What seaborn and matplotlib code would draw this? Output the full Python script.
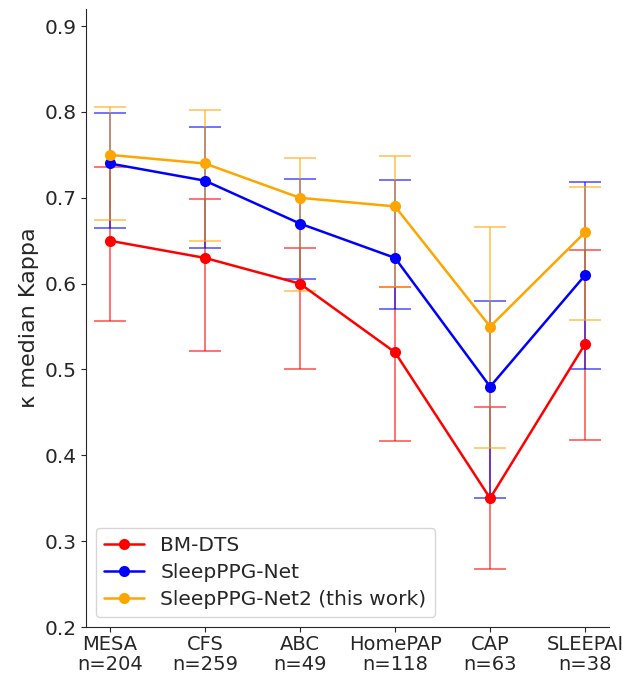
import numpy as np
import pandas as pd
import matplotlib
matplotlib.use("Agg")
import matplotlib.pyplot as plt
import seaborn as sns

# Datasets and subject counts
datasets = ["MESA", "CFS", "ABC", "HomePAP", "CAP", "SLEEPAI"]
n_subjects = [204, 259, 49, 118, 63, 38]

# Median kappa per model
bm_dts_median = [0.65, 0.63, 0.60, 0.52, 0.35, 0.53]
sleepppg_median = [0.74, 0.72, 0.67, 0.63, 0.48, 0.61]
sleepppg2_median = [0.75, 0.74, 0.70, 0.69, 0.55, 0.66]

# Interquartile range (lower / upper quartile) per model
bm_dts_q1 = [0.557, 0.521, 0.500, 0.417, 0.267, 0.418]
bm_dts_q3 = [0.736, 0.699, 0.641, 0.596, 0.456, 0.639]
sleepppg_q1 = [0.665, 0.641, 0.605, 0.571, 0.350, 0.500]
sleepppg_q3 = [0.799, 0.783, 0.722, 0.721, 0.580, 0.718]
sleepppg2_q1 = [0.674, 0.650, 0.591, 0.596, 0.409, 0.558]
sleepppg2_q3 = [0.806, 0.802, 0.746, 0.749, 0.666, 0.713]

models = ["BM-DTS", "SleepPPG-Net", "SleepPPG-Net2 (this work)"]
colors = ["red", "blue", "orange"]
medians = [bm_dts_median, sleepppg_median, sleepppg2_median]
q1s = [bm_dts_q1, sleepppg_q1, sleepppg2_q1]
q3s = [bm_dts_q3, sleepppg_q3, sleepppg2_q3]

tick_labels = [f"{d}\nn={n}" for d, n in zip(datasets, n_subjects)]

rows = []
for m, med, lo, hi in zip(models, medians, q1s, q3s):
    for i, (v, a, b) in enumerate(zip(med, lo, hi)):
        rows.append({"model": m, "x": i, "kappa": v, "q1": a, "q3": b})
df = pd.DataFrame(rows)

sns.set_style("ticks")
plt.rcParams["font.family"] = ["DejaVu Sans"]
plt.rcParams["font.size"] = 14.5

fig, ax = plt.subplots(figsize=(6.23, 6.75), dpi=100)
fig.subplots_adjust(left=0.138, right=0.9775, top=0.9867, bottom=0.0711)

# Interquartile error bars
for m, c in zip(models, colors):
    sub = df[df["model"] == m]
    yerr = np.vstack([sub["kappa"] - sub["q1"], sub["q3"] - sub["kappa"]])
    ax.errorbar(sub["x"], sub["kappa"], yerr=yerr, fmt="none",
                ecolor=c, elinewidth=1.1, capsize=11.5, capthick=1.1,
                alpha=0.7, zorder=2)

# Median lines
sns.lineplot(data=df, x="x", y="kappa", hue="model", hue_order=models,
             palette=colors, marker="o", markersize=8, markeredgewidth=0,
             linewidth=1.8, ax=ax, zorder=3, estimator=None)

ax.set_xticks(range(len(datasets)))
ax.set_xticklabels(tick_labels, fontsize=14, linespacing=1.05)
ax.set_xlim(-0.25, len(datasets) - 0.75)
ax.set_ylim(0.2, 0.92)
ax.set_yticks([0.2, 0.3, 0.4, 0.5, 0.6, 0.7, 0.8, 0.9])
ax.tick_params(axis="y", labelsize=14.5, length=3.5)
ax.tick_params(axis="x", length=3.5, pad=2.5)
ax.set_xlabel("")
ax.set_ylabel("κ median Kappa", fontsize=16)
sns.despine(ax=ax)

ax.legend(loc="lower left", fontsize=14.5, frameon=True, labelspacing=0.4)

fig.savefig("out.png", dpi=100)
